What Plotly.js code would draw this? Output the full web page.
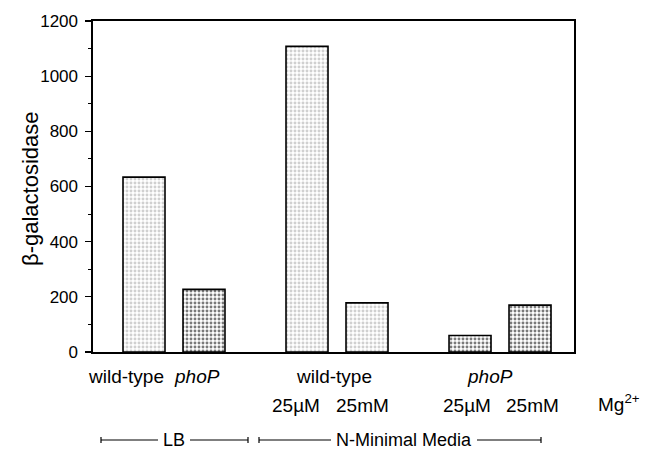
<!DOCTYPE html>
<html>
<head>
<meta charset="utf-8">
<script src="https://cdn.plot.ly/plotly-3.0.1.min.js"></script>
<style>html,body{margin:0;padding:0;background:#fff;}#chart{width:656px;height:450px;}</style>
</head>
<body>
<div id="chart"></div>
<script>
// ---- data ----
var strains = ["wild-type", "phoP", "wild-type", "wild-type", "phoP", "phoP"];
var groups = [0, 0, 1, 1, 2, 2];
var slotInGroup = [0, 1, 0, 1, 0, 1];
var betaGal = [634, 227, 1108, 178, 60, 170];
var shade = ["light", "dark", "light", "light", "dark", "dark"];
var yTicks = [0, 200, 400, 600, 800, 1000, 1200];

// ---- layout helpers ----
var L = 93, R = 574, T = 21, B = 352, W = 656, H = 450;
function px(xp) { return (xp - L) / (R - L); }
function py(yp) { return (B - yp) / (B - T); }
var groupStep = 2.717;
var xPos = groups.map(function (g, i) { return g * groupStep + slotInGroup[i]; });

var trace = {
  type: "bar",
  x: xPos,
  y: betaGal,
  width: 0.7,
  text: strains,
  hoverinfo: "y+text",
  textposition: "none",
  marker: {
    color: shade.map(function (s) { return s === "light" ? "#d0d0d0" : "#7a7a7a"; }),
    pattern: {
      shape: ".",
      fgcolor: shade.map(function (s) { return s === "light" ? "#6a6a6a" : "#1a1a1a"; }),
      bgcolor: shade.map(function (s) { return s === "light" ? "#e6e6e6" : "#9a9a9a"; }),
      size: 4,
      solidity: 0.42,
      fillmode: "replace"
    },
    line: {color: "#000", width: 1.6}
  }
};

var font = "Liberation Sans, Arial, Helvetica, sans-serif";
function lab(text, xc, yc, italic, size) {
  return {text: italic ? "<i>" + text + "</i>" : text, xref: "paper", yref: "paper",
    x: px(xc), y: py(yc), xanchor: "center", yanchor: "middle", showarrow: false,
    font: {family: font, size: size || 19, color: "#000"}};
}

var annotations = [
  lab("wild-type", 126, 376), lab("phoP", 197, 376, true),
  lab("wild-type", 334, 376), lab("phoP", 490, 376, true),
  lab("25µM", 296, 405), lab("25mM", 362, 405),
  lab("25µM", 467, 405), lab("25mM", 532, 405),
  lab("Mg<sup>2+</sup>", 619, 403),
  lab("LB", 174, 440, false, 18), lab("N-Minimal Media", 404, 440, false, 18),
  {text: "β-galactosidase", xref: "paper", yref: "paper", x: px(30), y: py(189),
   xanchor: "center", yanchor: "middle", textangle: -90, showarrow: false,
   font: {family: font, size: 22, color: "#000"}}
];

function seg(x0, x1, y) {
  return {type: "line", xref: "paper", yref: "paper", x0: px(x0), x1: px(x1), y0: py(y), y1: py(y),
    line: {color: "#000", width: 1.2}};
}
function tick(x, y) {
  return {type: "line", xref: "paper", yref: "paper", x0: px(x), x1: px(x), y0: py(y - 3), y1: py(y + 3),
    line: {color: "#000", width: 1.2}};
}
var shapes = [
  seg(101, 158, 440), seg(190, 248, 440), tick(101, 440), tick(248, 440),
  seg(259, 331, 440), seg(477, 541, 440), tick(259, 440), tick(541, 440)
];

var layout = {
  width: W, height: H,
  margin: {l: L, r: W - R, t: T, b: H - B, pad: 0},
  paper_bgcolor: "#fff", plot_bgcolor: "#fff",
  showlegend: false,
  font: {family: font, size: 17, color: "#000"},
  xaxis: {
    range: [-0.85, 2 * groupStep + 1 + 0.733],
    showticklabels: false, ticks: "", showgrid: false, zeroline: false,
    showline: true, linecolor: "#000", linewidth: 2, mirror: true
  },
  yaxis: {
    range: [0, 1200], tickvals: yTicks, ticktext: yTicks.map(String),
    ticks: "outside", ticklen: 6, tickwidth: 1.2, tickcolor: "#000",
    minor: {dtick: 100, ticks: "outside", ticklen: 3, tickwidth: 1, tickcolor: "#000"},
    showgrid: false, zeroline: false,
    showline: true, linecolor: "#000", linewidth: 1.6, mirror: true,
    tickfont: {family: font, size: 17, color: "#000"},
    ticklabelstandoff: 4
  },
  annotations: annotations,
  shapes: shapes
};

Plotly.newPlot("chart", [trace], layout, {staticPlot: true, displayModeBar: false});
</script>
</body>
</html>
